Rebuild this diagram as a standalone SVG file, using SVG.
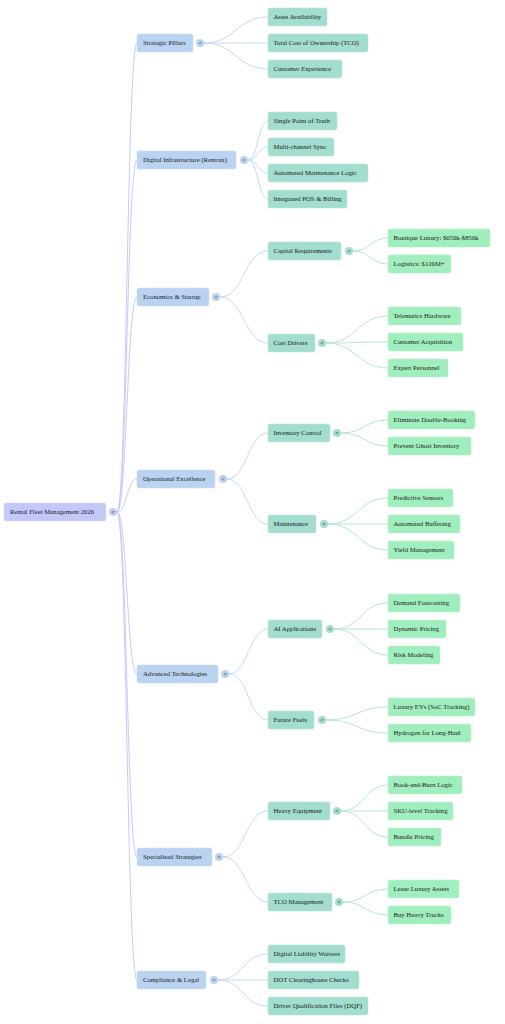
<svg xmlns="http://www.w3.org/2000/svg" width="505" height="1024" viewBox="0 0 505 1024">
<style>
text{font-family:"Liberation Serif","Times New Roman",serif;font-size:6.7px;fill:#1a1a1a}
.n0{fill:#c3c8f9;stroke:#d3d7fb;stroke-width:0.6}
.n1{fill:#bad3f0;stroke:#cadef5;stroke-width:0.6}
.n2{fill:#a3ddd0;stroke:#b8e6dc;stroke-width:0.6}
.n3{fill:#a0eebd;stroke:#b6f3cd;stroke-width:0.6}
.c0{fill:#c3c8f9}.c1{fill:#bad3f0}.c2{fill:#a3ddd0}
.ct{font-family:"Liberation Sans",Arial,sans-serif;font-size:5.5px;text-anchor:middle;fill:#333}
.e0{fill:none;stroke:#c6cbf8;stroke-width:1}
.e1{fill:none;stroke:#c6daf3;stroke-width:1}
.e2{fill:none;stroke:#b4e7d7;stroke-width:1}
</style>
<g id="connectors">
<path class="e0" d="M117,512 C127,512 127,43 137,43"/>
<path class="e0" d="M117,512 C127,512 127,160 137,160"/>
<path class="e0" d="M117,512 C127,512 127,297 137,297"/>
<path class="e0" d="M117,512 C127,512 127,479 137,479"/>
<path class="e0" d="M117,512 C127,512 127,674 137,674"/>
<path class="e0" d="M117,512 C127,512 127,857 137,857"/>
<path class="e0" d="M117,512 C127,512 127,980 137,980"/>
<path class="e1" d="M204,43 C236,43 236,17 268,17"/>
<path class="e1" d="M204,43 C236,43 236,43 268,43"/>
<path class="e1" d="M204,43 C236,43 236,69 268,69"/>
<path class="e1" d="M248,160 C258,160 258,121 268,121"/>
<path class="e1" d="M248,160 C258,160 258,147 268,147"/>
<path class="e1" d="M248,160 C258,160 258,173 268,173"/>
<path class="e1" d="M248,160 C258,160 258,199 268,199"/>
<path class="e1" d="M220,297 C244,297 244,251 268,251"/>
<path class="e1" d="M220,297 C244,297 244,343 268,343"/>
<path class="e1" d="M227,479 C247.5,479 247.5,433 268,433"/>
<path class="e1" d="M227,479 C247.5,479 247.5,524 268,524"/>
<path class="e1" d="M229,674 C248.5,674 248.5,629 268,629"/>
<path class="e1" d="M229,674 C248.5,674 248.5,720 268,720"/>
<path class="e1" d="M223,857 C245.5,857 245.5,811 268,811"/>
<path class="e1" d="M223,857 C245.5,857 245.5,902 268,902"/>
<path class="e1" d="M218,980 C243,980 243,954 268,954"/>
<path class="e1" d="M218,980 C243,980 243,980 268,980"/>
<path class="e1" d="M218,980 C243,980 243,1006 268,1006"/>
<path class="e2" d="M353,251 C370.5,251 370.5,238 388,238"/>
<path class="e2" d="M353,251 C370.5,251 370.5,264 388,264"/>
<path class="e2" d="M326,343 C357,343 357,316 388,316"/>
<path class="e2" d="M326,343 C357,343 357,342 388,342"/>
<path class="e2" d="M326,343 C357,343 357,368 388,368"/>
<path class="e2" d="M341,433 C364.5,433 364.5,420 388,420"/>
<path class="e2" d="M341,433 C364.5,433 364.5,446 388,446"/>
<path class="e2" d="M328,524 C358,524 358,498 388,498"/>
<path class="e2" d="M328,524 C358,524 358,524 388,524"/>
<path class="e2" d="M328,524 C358,524 358,550 388,550"/>
<path class="e2" d="M334,629 C361,629 361,603 388,603"/>
<path class="e2" d="M334,629 C361,629 361,629 388,629"/>
<path class="e2" d="M334,629 C361,629 361,655 388,655"/>
<path class="e2" d="M326,720 C357,720 357,707 388,707"/>
<path class="e2" d="M326,720 C357,720 357,733 388,733"/>
<path class="e2" d="M341,811 C364.5,811 364.5,785 388,785"/>
<path class="e2" d="M341,811 C364.5,811 364.5,811 388,811"/>
<path class="e2" d="M341,811 C364.5,811 364.5,837 388,837"/>
<path class="e2" d="M343,902 C365.5,902 365.5,889 388,889"/>
<path class="e2" d="M343,902 C365.5,902 365.5,915 388,915"/>
</g>

<g id="root"><rect class="n0" x="4" y="503" width="102" height="18" rx="2"/><text x="10" y="514.3">Rental Fleet Management 2026</text><circle class="c0" cx="113" cy="512" r="4"/><text class="ct" x="113" y="514">&lt;</text></g>

<g id="strategic-pillars"><rect class="n1" x="137" y="34" width="56" height="18" rx="2"/><text x="143" y="45.3">Strategic Pillars</text><circle class="c1" cx="200" cy="43" r="4"/><text class="ct" x="200" y="45">&lt;</text></g>
<g id="asset-availability"><rect class="n2" x="268" y="8" width="59" height="18" rx="2"/><text x="273.5" y="19.3">Asset Availability</text></g>
<g id="tco"><rect class="n2" x="268" y="34" width="100" height="18" rx="2"/><text x="273.5" y="45.3">Total Cost of Ownership (TCO)</text></g>
<g id="customer-experience"><rect class="n2" x="268" y="60" width="74" height="18" rx="2"/><text x="273.5" y="71.3">Customer Experience</text></g>

<g id="digital-infrastructure"><rect class="n1" x="137" y="151" width="99" height="18" rx="2"/><text x="143" y="162.3">Digital Infrastructure (Rentrax)</text><circle class="c1" cx="244" cy="160" r="4"/><text class="ct" x="244" y="162">&lt;</text></g>
<g id="single-point"><rect class="n2" x="268" y="112" width="69" height="18" rx="2"/><text x="273.5" y="123.3">Single Point of Truth</text></g>
<g id="multi-channel"><rect class="n2" x="268" y="138" width="66" height="18" rx="2"/><text x="273.5" y="149.3">Multi-channel Sync</text></g>
<g id="automated-maintenance"><rect class="n2" x="268" y="164" width="100" height="18" rx="2"/><text x="273.5" y="175.3">Automated Maintenance Logic</text></g>
<g id="integrated-pos"><rect class="n2" x="268" y="190" width="79" height="18" rx="2"/><text x="273.5" y="201.3">Integrated POS &amp; Billing</text></g>

<g id="economics"><rect class="n1" x="137" y="288" width="72" height="18" rx="2"/><text x="143" y="299.3">Economics &amp; Startup</text><circle class="c1" cx="216" cy="297" r="4"/><text class="ct" x="216" y="299">&lt;</text></g>
<g id="capital-requirements"><rect class="n2" x="268" y="242" width="73" height="18" rx="2"/><text x="273.5" y="253.3">Capital Requirements</text><circle class="c2" cx="349" cy="251" r="4"/><text class="ct" x="349" y="253">&lt;</text></g>
<g id="boutique-luxury"><rect class="n3" x="388" y="229" width="102" height="18" rx="2"/><text x="393.5" y="240.3">Boutique Luxury: $650k-$850k</text></g>
<g id="logistics"><rect class="n3" x="388" y="255" width="63" height="18" rx="2"/><text x="393.5" y="266.3">Logistics: $126M+</text></g>
<g id="cost-drivers"><rect class="n2" x="268" y="334" width="47" height="18" rx="2"/><text x="273.5" y="345.3">Cost Drivers</text><circle class="c2" cx="322" cy="343" r="4"/><text class="ct" x="322" y="345">&lt;</text></g>
<g id="telematics"><rect class="n3" x="388" y="307" width="73" height="18" rx="2"/><text x="393.5" y="318.3">Telematics Hardware</text></g>
<g id="customer-acquisition"><rect class="n3" x="388" y="333" width="75" height="18" rx="2"/><text x="393.5" y="344.3">Customer Acquisition</text></g>
<g id="expert-personnel"><rect class="n3" x="388" y="359" width="60" height="18" rx="2"/><text x="393.5" y="370.3">Expert Personnel</text></g>

<g id="operational-excellence"><rect class="n1" x="137" y="470" width="78" height="18" rx="2"/><text x="143" y="481.3">Operational Excellence</text><circle class="c1" cx="223" cy="479" r="4"/><text class="ct" x="223" y="481">&lt;</text></g>
<g id="inventory-control"><rect class="n2" x="268" y="424" width="62" height="18" rx="2"/><text x="273.5" y="435.3">Inventory Control</text><circle class="c2" cx="337" cy="433" r="4"/><text class="ct" x="337" y="435">&lt;</text></g>
<g id="eliminate-double-booking"><rect class="n3" x="388" y="411" width="87" height="18" rx="2"/><text x="393.5" y="422.3">Eliminate Double-Booking</text></g>
<g id="prevent-ghost"><rect class="n3" x="388" y="437" width="83" height="18" rx="2"/><text x="393.5" y="448.3">Prevent Ghost Inventory</text></g>
<g id="maintenance"><rect class="n2" x="268" y="515" width="48" height="18" rx="2"/><text x="273.5" y="526.3">Maintenance</text><circle class="c2" cx="324" cy="524" r="4"/><text class="ct" x="324" y="526">&lt;</text></g>
<g id="predictive-sensors"><rect class="n3" x="388" y="489" width="65" height="18" rx="2"/><text x="393.5" y="500.3">Predictive Sensors</text></g>
<g id="automated-buffering"><rect class="n3" x="388" y="515" width="72" height="18" rx="2"/><text x="393.5" y="526.3">Automated Buffering</text></g>
<g id="yield-management"><rect class="n3" x="388" y="541" width="66" height="18" rx="2"/><text x="393.5" y="552.3">Yield Management</text></g>

<g id="advanced-technologies"><rect class="n1" x="137" y="665" width="81" height="18" rx="2"/><text x="143" y="676.3">Advanced Technologies</text><circle class="c1" cx="225" cy="674" r="4"/><text class="ct" x="225" y="676">&lt;</text></g>
<g id="ai-applications"><rect class="n2" x="268" y="620" width="54" height="18" rx="2"/><text x="273.5" y="631.3">AI Applications</text><circle class="c2" cx="330" cy="629" r="4"/><text class="ct" x="330" y="631">&lt;</text></g>
<g id="demand-forecasting"><rect class="n3" x="388" y="594" width="72" height="18" rx="2"/><text x="393.5" y="605.3">Demand Forecasting</text></g>
<g id="dynamic-pricing"><rect class="n3" x="388" y="620" width="58" height="18" rx="2"/><text x="393.5" y="631.3">Dynamic Pricing</text></g>
<g id="risk-modeling"><rect class="n3" x="388" y="646" width="52" height="18" rx="2"/><text x="393.5" y="657.3">Risk Modeling</text></g>
<g id="future-fuels"><rect class="n2" x="268" y="711" width="46" height="18" rx="2"/><text x="273.5" y="722.3">Future Fuels</text><circle class="c2" cx="322" cy="720" r="4"/><text class="ct" x="322" y="722">&lt;</text></g>
<g id="luxury-evs"><rect class="n3" x="388" y="698" width="87" height="18" rx="2"/><text x="393.5" y="709.3">Luxury EVs (SoC Tracking)</text></g>
<g id="hydrogen"><rect class="n3" x="388" y="724" width="83" height="18" rx="2"/><text x="393.5" y="735.3">Hydrogen for Long-Haul</text></g>

<g id="specialised-strategies"><rect class="n1" x="137" y="848" width="75" height="18" rx="2"/><text x="143" y="859.3">Specialised Strategies</text><circle class="c1" cx="219" cy="857" r="4"/><text class="ct" x="219" y="859">&lt;</text></g>
<g id="heavy-equipment"><rect class="n2" x="268" y="802" width="62" height="18" rx="2"/><text x="273.5" y="813.3">Heavy Equipment</text><circle class="c2" cx="337" cy="811" r="4"/><text class="ct" x="337" y="813">&lt;</text></g>
<g id="book-and-burn"><rect class="n3" x="388" y="776" width="74" height="18" rx="2"/><text x="393.5" y="787.3">Book-and-Burn Logic</text></g>
<g id="sku-level"><rect class="n3" x="388" y="802" width="65" height="18" rx="2"/><text x="393.5" y="813.3">SKU-level Tracking</text></g>
<g id="bundle-pricing"><rect class="n3" x="388" y="828" width="53" height="18" rx="2"/><text x="393.5" y="839.3">Bundle Pricing</text></g>
<g id="tco-management"><rect class="n2" x="268" y="893" width="64" height="18" rx="2"/><text x="273.5" y="904.3">TCO Management</text><circle class="c2" cx="339" cy="902" r="4"/><text class="ct" x="339" y="904">&lt;</text></g>
<g id="lease-luxury"><rect class="n3" x="388" y="880" width="71" height="18" rx="2"/><text x="393.5" y="891.3">Lease Luxury Assets</text></g>
<g id="buy-heavy-trucks"><rect class="n3" x="388" y="906" width="63" height="18" rx="2"/><text x="393.5" y="917.3">Buy Heavy Trucks</text></g>

<g id="compliance-legal"><rect class="n1" x="137" y="971" width="69" height="18" rx="2"/><text x="143" y="982.3">Compliance &amp; Legal</text><circle class="c1" cx="214" cy="980" r="4"/><text class="ct" x="214" y="982">&lt;</text></g>
<g id="digital-liability"><rect class="n2" x="268" y="945" width="77" height="18" rx="2"/><text x="273.5" y="956.3">Digital Liability Waivers</text></g>
<g id="dot-clearinghouse"><rect class="n2" x="268" y="971" width="91" height="18" rx="2"/><text x="273.5" y="982.3">DOT Clearinghouse Checks</text></g>
<g id="dqf"><rect class="n2" x="268" y="997" width="100" height="18" rx="2"/><text x="273.5" y="1008.3">Driver Qualification Files (DQF)</text></g>
</svg>
